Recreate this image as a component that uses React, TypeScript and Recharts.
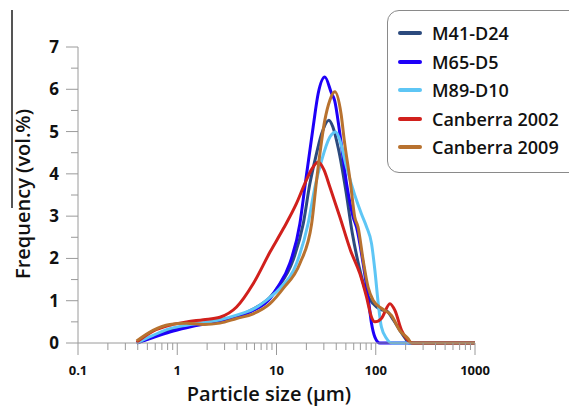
import React from 'react';
import { LineChart, Line, XAxis, YAxis, Label } from 'recharts';

const seriesNames = ['M41-D24', 'M65-D5', 'M89-D10', 'Canberra 2002', 'Canberra 2009'];
const seriesColors = ['#2c4a7e', '#1e00f8', '#5ec6f5', '#d1201c', '#b8722f'];

// particle size (µm) and frequency (vol.%) for each sample
const m41Size = [0.39, 0.57, 0.84, 1.24, 1.83, 2.69, 3.96, 5.82, 8.6, 10.4, 14.7, 18.6, 21.7, 24.4, 28.5, 33.7, 37, 42, 50, 58, 68, 80, 94, 110, 130, 150, 175, 200, 215, 1000];
const m41Freq = [0, 0.15, 0.3, 0.4, 0.46, 0.52, 0.62, 0.8, 1.08, 1.32, 1.96, 2.82, 3.77, 4.32, 4.95, 5.27, 5.11, 4.6, 3.6, 2.6, 1.8, 1.2, 0.93, 0.8, 0.75, 0.55, 0.3, 0.1, 0, 0];

const m65Size = [0.39, 0.57, 0.84, 1.24, 1.83, 2.69, 3.96, 5.82, 8.6, 10, 13.6, 17.2, 19.3, 23.4, 26.3, 30.7, 35.9, 38.5, 43.5, 50.8, 59.2, 64, 74.6, 83.7, 90.7, 98, 110, 1000];
const m65Freq = [0, 0.13, 0.26, 0.36, 0.44, 0.5, 0.61, 0.77, 1.05, 1.28, 1.88, 2.82, 3.69, 5.11, 5.9, 6.29, 5.9, 5.74, 4.95, 3.77, 2.98, 2.74, 1.88, 1.09, 0.46, 0.14, 0, 0];

const m89Size = [0.39, 0.57, 0.84, 1.24, 1.83, 2.69, 3.96, 5.82, 8.6, 10.8, 15.9, 20.8, 24.4, 28.5, 34.5, 39.6, 43.5, 50.8, 61.4, 71.8, 80.7, 90.7, 98, 106, 114, 129, 145, 1000];
const m89Freq = [0, 0.18, 0.34, 0.42, 0.48, 0.55, 0.66, 0.8, 1.08, 1.29, 1.88, 2.82, 3.69, 4.32, 4.87, 4.99, 4.79, 4.16, 3.5, 3.05, 2.75, 2.35, 1.72, 0.93, 0.38, 0.1, 0, 0];

const c2002Size = [0.39, 0.57, 0.84, 1.24, 1.83, 2.69, 3.96, 5.82, 8.6, 11.7, 15.9, 19.3, 22.5, 26.3, 30, 34.5, 43.5, 55.7, 69.2, 80.7, 90.7, 98, 114, 139, 156, 182, 212, 236, 1000];
const c2002Freq = [0.02, 0.28, 0.42, 0.5, 0.55, 0.61, 0.85, 1.4, 2.15, 2.7, 3.3, 3.77, 4.1, 4.28, 4.1, 3.69, 2.98, 2.19, 1.64, 1.09, 0.61, 0.5, 0.58, 0.93, 0.77, 0.3, 0.06, 0, 0];

const c2009Size = [0.39, 0.57, 0.84, 1.24, 1.83, 2.69, 3.96, 5.82, 8.6, 11.7, 17.2, 22.6, 25.5, 30.7, 34.5, 38.7, 44.7, 48.2, 55.7, 61.4, 66.3, 74.6, 83.7, 94, 116, 144, 174, 212, 228, 1000];
const c2009Freq = [0.05, 0.3, 0.44, 0.47, 0.44, 0.47, 0.58, 0.69, 0.93, 1.29, 1.88, 2.82, 3.9, 5.27, 5.74, 5.94, 5.42, 4.79, 3.77, 2.98, 2.74, 1.96, 1.32, 1.01, 0.81, 0.65, 0.3, 0.1, 0, 0];

const xTicks = [0.1, 0.2, 0.3, 0.4, 0.5, 0.6, 0.7, 0.8, 0.9, 1, 2, 3, 4, 5, 6, 7, 8, 9, 10, 20, 30, 40, 50, 60, 70, 80, 90, 100, 200, 300, 400, 500, 600, 700, 800, 900, 1000];
const xLabels = [0.1, 1, 10, 100, 1000];
const yTicks = [0, 0.5, 1, 1.5, 2, 2.5, 3, 3.5, 4, 4.5, 5, 5.5, 6, 6.5, 7];
const yLabels = [0, 1, 2, 3, 4, 5, 6, 7];

const sizes = [m41Size, m65Size, m89Size, c2002Size, c2009Size];
const freqs = [m41Freq, m65Freq, m89Freq, c2002Freq, c2009Freq];

const series = seriesNames.map((name, i) => ({
  name,
  color: seriesColors[i],
  points: sizes[i].map((s, j) => ({ size: s, freq: freqs[i][j] })),
}));

const axisColor = '#9a9a9a';
const font = '"Open Sans", sans-serif';

const XTick = (props: any) => {
  const { x, y, payload } = props;
  const major = xLabels.includes(payload.value);
  return (
    <g>
      <line x1={x} x2={x} y1={y} y2={y + (major ? 12 : 7)} stroke={axisColor} />
      {major && (
        <text x={x} y={y + 32} textAnchor="middle" fontSize={13} fontWeight={700} fill="#111" fontFamily={font}>
          {payload.value}
        </text>
      )}
    </g>
  );
};

const YTick = (props: any) => {
  const { x, y, payload } = props;
  const major = yLabels.includes(payload.value);
  return (
    <g>
      <line x1={x - (major ? 12 : 7)} x2={x} y1={y} y2={y} stroke={axisColor} />
      {major && (
        <text x={x - 19} y={y + 6} textAnchor="end" fontSize={17} fontWeight={700} fill="#111" fontFamily={font}>
          {payload.value}
        </text>
      )}
    </g>
  );
};

export default function App() {
  return (
    <div style={{ position: 'absolute', left: 0, top: 0, width: 569, height: 406, overflow: 'hidden', background: '#fff' }}>
      <div style={{ position: 'absolute', left: 11, top: 10, width: 2, height: 198, background: '#555' }} />
      <LineChart width={569} height={406} margin={{ top: 47, right: 94, bottom: 0, left: 0 }}>
        <XAxis
          dataKey="size"
          type="number"
          scale="log"
          domain={[0.1, 1000]}
          ticks={xTicks}
          interval={0}
          tick={<XTick />}
          tickSize={0}
          tickMargin={0}
          tickLine={false}
          height={63}
          axisLine={{ stroke: axisColor }}
          allowDataOverflow
        >
          <Label
            content={(p: any) => (
              <text x={p.viewBox.x + 191} y={p.viewBox.y + 58} textAnchor="middle" fontSize={20} fontWeight={600} fill="#111" fontFamily={font}>
                Particle size (μm)
              </text>
            )}
          />
        </XAxis>
        <YAxis
          type="number"
          domain={[0, 7]}
          ticks={yTicks}
          interval={0}
          tick={<YTick />}
          tickSize={0}
          tickMargin={0}
          tickLine={false}
          width={78}
          axisLine={{ stroke: axisColor }}
        >
          <Label
            content={() => (
              <text
                x={22}
                y={194}
                transform="rotate(-90 22 194)"
                textAnchor="middle"
                dominantBaseline="central"
                fontSize={20}
                fontWeight={600}
                fill="#111"
                fontFamily={font}
              >
                Frequency (vol.%)
              </text>
            )}
          />
        </YAxis>
        {series.map((s) => (
          <Line
            key={s.name}
            data={s.points}
            dataKey="freq"
            name={s.name}
            type="monotone"
            stroke={s.color}
            strokeWidth={3}
            dot={false}
            isAnimationActive={false}
          />
        ))}
      </LineChart>
      <div
        style={{
          position: 'absolute',
          left: 387,
          top: 10,
          width: 200,
          height: 163,
          border: '1px solid #8a8a8a',
          borderRadius: 12,
          boxSizing: 'border-box',
          paddingTop: 8,
          fontFamily: font,
        }}
      >
        {series.map((s) => (
          <div key={s.name} style={{ height: 28.5, display: 'flex', alignItems: 'center' }}>
            <div style={{ marginLeft: 10, width: 24, height: 4, background: s.color, borderRadius: 2 }} />
            <span style={{ marginLeft: 10, fontSize: 18, fontWeight: 600, color: '#111' }}>{s.name}</span>
          </div>
        ))}
      </div>
    </div>
  );
}
